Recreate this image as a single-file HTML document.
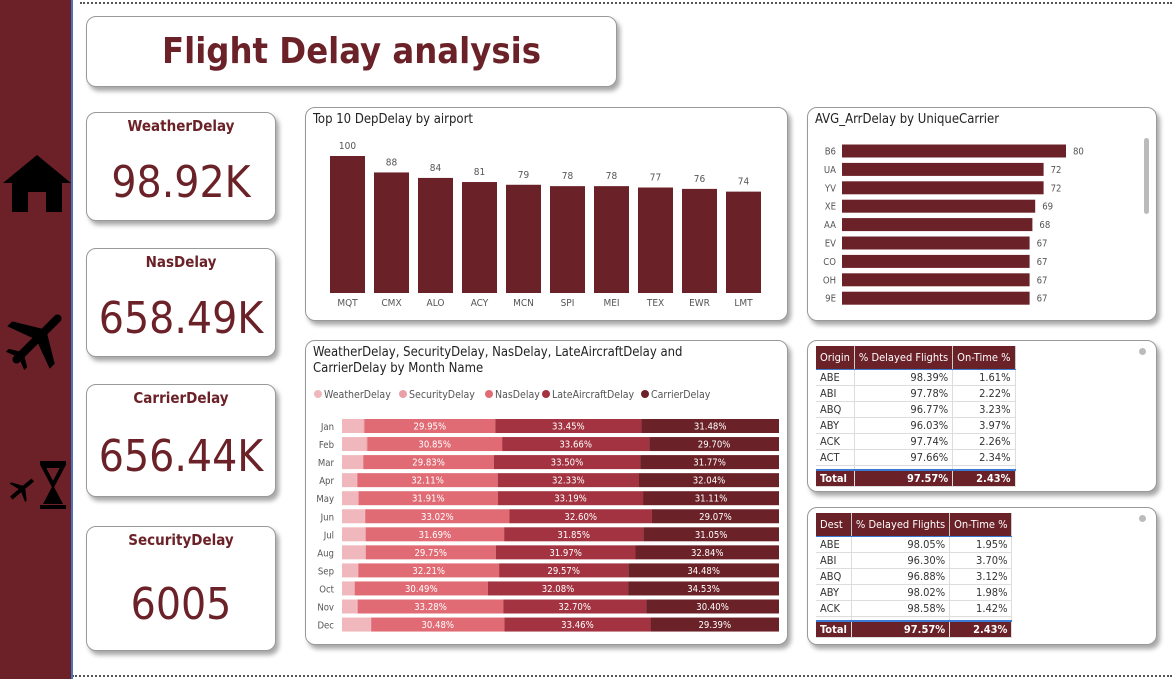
<!DOCTYPE html>
<html><head><meta charset="utf-8">
<style>
*{box-sizing:border-box;margin:0;padding:0}
body{width:1172px;height:679px;background:#fff;position:relative;overflow:hidden;font-family:"DejaVu Sans Condensed","Liberation Sans",sans-serif;color:#333}
.card{position:absolute;background:#fff;border:1px solid #999;border-radius:10px;box-shadow:3px 4px 5px rgba(0,0,0,.35)}
.kpi-t{position:absolute;left:0;right:0;text-align:center;color:#6b2128;font-weight:bold;font-size:15px}
.kpi-v{position:absolute;left:0;right:0;text-align:center;color:#6b2128;font-size:44px}
.ttl{position:absolute;left:7px;top:4px;font-size:13px;color:#222}
table{border-collapse:collapse;font-size:11px;position:absolute;left:8px;top:5px}
th{background:#6b2128;color:#fff;font-weight:normal;padding:2px 4px;text-align:left;border-right:1px solid #ccc;height:23px;border-bottom:1px solid #3a7bd5}
td{padding:0 4px;height:16px;border-bottom:1px solid #ddd;border-right:1px solid #ddd;text-align:right}
td:first-child{text-align:left}
tr.sp td{height:5px;font-size:1px;line-height:1px}
tr.tot td{background:#6b2128;color:#fff;font-weight:bold;border-top:2px solid #3a7bd5;height:16px}
.dot{position:absolute;right:10px;top:7px;width:7px;height:7px;border-radius:50%;background:#bbb}
</style></head><body>
<div style="position:absolute;left:80px;top:2px;width:1092px;border-top:2px dotted #555"></div>
<div style="position:absolute;left:72px;top:675px;width:1100px;border-top:2px dotted #555"></div>
<div style="position:absolute;left:0;top:0;width:73px;height:679px;background:#6b2127;border-right:2px solid #4a74c0">
 <svg style="position:absolute;left:2px;top:154px" width="70" height="60" viewBox="0 0 70 60"><polygon points="35,1 1,29 10,29 10,58 26,58 26,38 44,38 44,58 60,58 60,29 69,29" fill="#000"/></svg>
 <svg style="position:absolute;left:4px;top:306px" width="66" height="66" viewBox="0 0 66 66"><g transform="rotate(45 33 33)"><rect x="29" y="0" width="8" height="66" rx="4" fill="#000"/><polygon points="33,20 3,38 3,45 33,34 63,45 63,38" fill="#000"/><polygon points="33,52 20,60 20,64 33,59 46,64 46,60" fill="#000"/></g></svg>
 <svg style="position:absolute;left:6px;top:461px" width="62" height="48" viewBox="0 0 62 48"><g transform="rotate(50 16 28)"><rect x="14" y="14" width="4" height="28" fill="#000"/><polygon points="16,24 4,32 4,34 16,30 28,34 28,32" fill="#000"/></g><rect x="34" y="0" width="26" height="4" fill="#000"/><rect x="34" y="44" width="26" height="4" fill="#000"/><polygon points="37,5 57,5 47,24" fill="none" stroke="#000" stroke-width="4"/><polygon points="47,24 37,43 57,43" fill="#000"/></svg>
</div>
<div class="card" style="left:86px;top:16px;width:531px;height:71px"><div style="position:absolute;left:0;right:0;top:14px;text-align:center;font-size:36px;font-weight:bold;color:#6b2128">Flight Delay analysis</div></div>

<div class="card" style="left:86px;top:112px;width:190px;height:109px"><div class="kpi-t" style="top:4px">WeatherDelay</div><div class="kpi-v" style="top:44px">98.92K</div></div>
<div class="card" style="left:86px;top:248px;width:190px;height:109px"><div class="kpi-t" style="top:4px">NasDelay</div><div class="kpi-v" style="top:44px">658.49K</div></div>
<div class="card" style="left:86px;top:384px;width:190px;height:113px"><div class="kpi-t" style="top:4px">CarrierDelay</div><div class="kpi-v" style="top:46px">656.44K</div></div>
<div class="card" style="left:86px;top:526px;width:190px;height:125px"><div class="kpi-t" style="top:4px">SecurityDelay</div><div class="kpi-v" style="top:52px">6005</div></div>

<div class="card" style="left:305px;top:107px;width:483px;height:214px"><div class="ttl">Top 10 DepDelay by airport</div><svg id="bar1" width="483" height="214" style="position:absolute;left:0;top:0"></svg></div>
<div class="card" style="left:807px;top:107px;width:350px;height:214px"><div class="ttl">AVG_ArrDelay by UniqueCarrier</div><svg id="bar2" width="350" height="214" style="position:absolute;left:0;top:0"></svg><div style="position:absolute;left:336px;top:30px;width:5px;height:76px;background:#bbb;border-radius:3px"></div></div>
<div class="card" style="left:305px;top:340px;width:483px;height:305px"><div class="ttl" style="line-height:16px">WeatherDelay, SecurityDelay, NasDelay, LateAircraftDelay and<br>CarrierDelay by Month Name</div><svg id="bar3" width="483" height="305" style="position:absolute;left:0;top:0"></svg></div>

<div class="card" style="left:807px;top:340px;width:350px;height:152px"><div class="dot"></div>
<table><tr><th>Origin</th><th>% Delayed Flights</th><th>On-Time %</th></tr>
<tr><td>ABE</td><td>98.39%</td><td>1.61%</td></tr><tr><td>ABI</td><td>97.78%</td><td>2.22%</td></tr><tr><td>ABQ</td><td>96.77%</td><td>3.23%</td></tr><tr><td>ABY</td><td>96.03%</td><td>3.97%</td></tr><tr><td>ACK</td><td>97.74%</td><td>2.26%</td></tr><tr><td>ACT</td><td>97.66%</td><td>2.34%</td></tr>
<tr class="sp"><td></td><td></td><td></td></tr>
<tr class="tot"><td>Total</td><td>97.57%</td><td>2.43%</td></tr></table></div>
<div class="card" style="left:807px;top:507px;width:350px;height:138px"><div class="dot"></div>
<table><tr><th>Dest</th><th>% Delayed Flights</th><th>On-Time %</th></tr>
<tr><td>ABE</td><td>98.05%</td><td>1.95%</td></tr><tr><td>ABI</td><td>96.30%</td><td>3.70%</td></tr><tr><td>ABQ</td><td>96.88%</td><td>3.12%</td></tr><tr><td>ABY</td><td>98.02%</td><td>1.98%</td></tr><tr><td>ACK</td><td>98.58%</td><td>1.42%</td></tr>
<tr class="sp"><td></td><td></td><td></td></tr>
<tr class="tot"><td>Total</td><td>97.57%</td><td>2.43%</td></tr></table></div>

<script>
const NS='http://www.w3.org/2000/svg';
function mk(p,t,a,txt){const e=document.createElementNS(NS,t);for(const k in a)e.setAttribute(k,a[k]);if(txt!==undefined)e.textContent=txt;p.appendChild(e);return e;}
const airports=['MQT','CMX','ALO','ACY','MCN','SPI','MEI','TEX','EWR','LMT'];
const depDelay=[100,88,84,81,79,78,78,77,76,74];
const carriers=['B6','UA','YV','XE','AA','EV','CO','OH','9E'];
const arrDelay=[80,72,72,69,68,67,67,67,67];
const months=['Jan','Feb','Mar','Apr','May','Jun','Jul','Aug','Sep','Oct','Nov','Dec'];
const weatherPct=[4.9,5.6,4.8,3.4,3.7,5.2,5.3,5.3,3.6,2.8,3.4,6.6];
const nasPct=[29.95,30.85,29.83,32.11,31.91,33.02,31.69,29.75,32.21,30.49,33.28,30.48];
const latePct=[33.45,33.66,33.50,32.33,33.19,32.60,31.85,31.97,29.57,32.08,32.70,33.46];
const carrierPct=[31.48,29.70,31.77,32.04,31.11,29.07,31.05,32.84,34.48,34.53,30.40,29.39];
const C='#6b2128';
(function(){const s=document.getElementById('bar1');const base=185,h=137/100;
airports.forEach((a,i)=>{const x=24+i*44,bh=depDelay[i]*h;
const r=mk(s,'rect',{x:x,y:base-bh,width:35,height:bh,fill:C});


mk(s,'text',{x:x+17.5,y:base-bh-7,'text-anchor':'middle','font-size':10,fill:'#555'},depDelay[i]);
mk(s,'text',{x:x+17.5,y:base+13,'text-anchor':'middle','font-size':10,fill:'#555'},a);});})();
(function(){const s=document.getElementById('bar2');const x0=34,k=2.8;
carriers.forEach((c,i)=>{const y=43+i*18.4-6.5,w=arrDelay[i]*k;
const r=mk(s,'rect',{x:x0,y:y,width:w,height:13,fill:C});


mk(s,'text',{x:28,y:y+10,'text-anchor':'end','font-size':9.5,fill:'#555'},c);
mk(s,'text',{x:x0+w+7,y:y+10,'font-size':9.5,fill:'#555'},arrDelay[i]);});})();
(function(){const s=document.getElementById('bar3');const x0=36,W=437;
const leg=[['WeatherDelay','#f0b8bc',8],['SecurityDelay','#e9a0a6',93],['NasDelay','#e06b74',179],['LateAircraftDelay','#a33340',236],['CarrierDelay','#6b2128',335]];
leg.forEach(l=>{const lx=l[2];mk(s,'circle',{cx:lx+4,cy:53,r:4,fill:l[1]});mk(s,'text',{x:lx+10,y:57,'font-size':10.5,fill:'#555'},l[0]);});
months.forEach((m,i)=>{const y=78+i*18.05;
mk(s,'text',{x:28,y:y+11,'text-anchor':'end','font-size':9.5,fill:'#555'},m);
const sec=Math.max(0,100-weatherPct[i]-nasPct[i]-latePct[i]-carrierPct[i]);
const seg=[[weatherPct[i],'#f0b8bc',''],[sec,'#e9a0a6',''],[nasPct[i],'#e06b74',nasPct[i].toFixed(2)+'%'],[latePct[i],'#a33340',latePct[i].toFixed(2)+'%'],[carrierPct[i],'#6b2128',carrierPct[i].toFixed(2)+'%']];
let x=x0;seg.forEach((g,j)=>{const w=g[0]/100*W;
const r=mk(s,'rect',{x:x,y:y,width:w,height:14,fill:g[1]});


if(g[2])mk(s,'text',{x:x+w/2,y:y+10.5,'text-anchor':'middle','font-size':9.5,fill:'#fff'},g[2]);
x+=w;});});})();
</script>
</body></html>
